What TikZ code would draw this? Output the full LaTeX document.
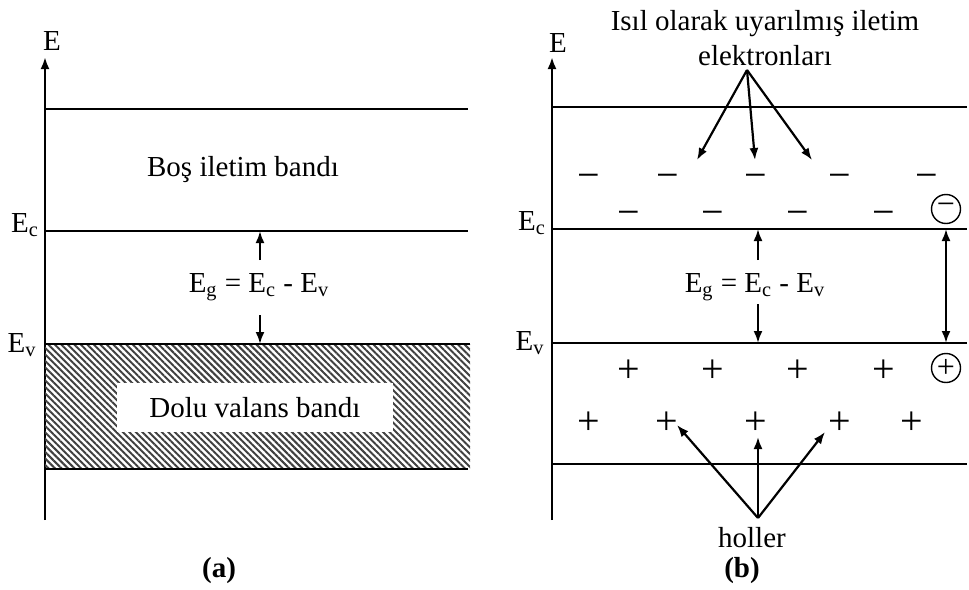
\documentclass[tikz,border=0pt]{standalone}
\usepackage{fontspec}
\setmainfont{Liberation Serif}
\usetikzlibrary{arrows.meta,patterns.meta}

\begin{document}
\begin{tikzpicture}[x=0.5pt,y=-0.5pt,>={Latex[length=6pt,width=4.5pt]},
  lbl/.style={font=\fontsize{14.5}{17.5}\selectfont,inner sep=0pt},
  axlbl/.style={font=\fontsize{14.5}{15}\selectfont,inner sep=0pt,anchor=base},
  sgn/.style={font=\fontsize{20}{20}\selectfont,inner sep=0pt,anchor=base},
  csgn/.style={circle,draw,line width=0.7pt,minimum size=14.5pt,inner sep=0pt,font=\fontsize{16}{16}\selectfont},
  band/.style={line width=1.25pt},
  axis/.style={->,line width=1.25pt},
  arr/.style={->,line width=1.1pt}]
\useasboundingbox (0,0) rectangle (969,589);

% (a) empty conduction band, filled valence band
\coordinate (a0) at (45,520);
\coordinate (a1) at (45,57);
\draw[axis] (a0) -- (a1);
\node[axlbl] (ea) at (52,50) {E};
\fill[pattern={Lines[angle=-45,distance=2.3pt,line width=1pt]},pattern color=black!75] (45,344) rectangle (470,469);
\draw[band] (45,109) -- (468,109);
\draw[band] (45,231) -- (468,231);
\draw[band] (45,344) -- (470,344);
\draw[band] (45,469) -- (468,469);
\node[lbl,anchor=base] (eca) at (25,232) {E\textsubscript{c}};
\node[lbl,anchor=base] (eva) at (22,352) {E\textsubscript{v}};
\node[lbl,anchor=base] (cba) at (243,176) {Boş iletim bandı};
\node[lbl,fill=white,minimum width=138pt,minimum height=24.5pt] (vba) at (255,407.5) {Dolu valans bandı};
\node[lbl,anchor=base] (ega) at (259,292) {E\textsubscript{g} = E\textsubscript{c} - E\textsubscript{v}};
\coordinate (ga0) at (260,260);
\coordinate (ga1) at (260,231);
\coordinate (ga2) at (260,315);
\coordinate (ga3) at (260,344);
\draw[arr] (ga0) -- (ga1);
\draw[arr] (ga2) -- (ga3);
\node[lbl,anchor=base,font=\bfseries\fontsize{14.5}{17.5}\selectfont] (capa) at (219,577) {(a)};

% (b) thermally excited electrons and holes
\coordinate (b0) at (552,520);
\coordinate (b1) at (552,57);
\draw[axis] (b0) -- (b1);
\node[axlbl] (eb) at (558,52) {E};
\draw[band] (552,107) -- (967,107);
\draw[band] (552,229) -- (967,229);
\draw[band] (552,343) -- (967,343);
\draw[band] (552,464) -- (967,464);
\node[lbl,anchor=base] (ecb) at (532,230) {E\textsubscript{c}};
\node[lbl,anchor=base] (evb) at (530,350) {E\textsubscript{v}};
\node[lbl,align=center] (tb) at (765,38) {Isıl olarak uyarılmış iletim\\elektronları};
\node[lbl,anchor=base] (egb) at (755,292) {E\textsubscript{g} = E\textsubscript{c} - E\textsubscript{v}};
\coordinate (gb0) at (758,260);
\coordinate (gb1) at (758,229);
\coordinate (gb2) at (758,304);
\coordinate (gb3) at (758,343);
\draw[arr] (gb0) -- (gb1);
\draw[arr] (gb2) -- (gb3);

% electrons
\node[sgn] (m1) at (589,188) {−};
\node[sgn] (m2) at (668,188) {−};
\node[sgn] (m3) at (756,188) {−};
\node[sgn] (m4) at (840,188) {−};
\node[sgn] (m5) at (927,188) {−};
\node[sgn] (m6) at (629,225) {−};
\node[sgn] (m7) at (713,225) {−};
\node[sgn] (m8) at (798,225) {−};
\node[sgn] (m9) at (884,225) {−};
\node[csgn] (mc) at (946,209) {−};

% holes
\node[sgn] (p1) at (629,382) {+};
\node[sgn] (p2) at (713,382) {+};
\node[sgn] (p3) at (798,382) {+};
\node[sgn] (p4) at (884,382) {+};
\node[csgn] (pc) at (946,368) {+};
\node[sgn] (p5) at (589,434) {+};
\node[sgn] (p6) at (667,434) {+};
\node[sgn] (p7) at (756,434) {+};
\node[sgn] (p8) at (840,434) {+};
\node[sgn] (p9) at (912,434) {+};

% excitation across the gap
\coordinate (jb0) at (946,229);
\coordinate (jb1) at (946,343);
\draw[arr,<->] (jb0) -- (jb1);

% pointers to electrons
\coordinate (ef) at (747,70);
\coordinate (e1) at (697,160);
\coordinate (e2) at (755,160);
\coordinate (e3) at (812,160);
\draw[arr] (ef) -- (e1);
\draw[arr] (ef) -- (e2);
\draw[arr] (ef) -- (e3);

% pointers to holes
\coordinate (hf) at (758,518);
\coordinate (h1) at (677,425);
\coordinate (h2) at (758,437);
\coordinate (h3) at (825,432);
\draw[arr] (hf) -- (h1);
\draw[arr] (hf) -- (h2);
\draw[arr] (hf) -- (h3);
\node[lbl,anchor=base] (hl) at (752,547) {holler};
\node[lbl,anchor=base,font=\bfseries\fontsize{14.5}{17.5}\selectfont] (capb) at (742,577) {(b)};
\end{tikzpicture}
\end{document}
